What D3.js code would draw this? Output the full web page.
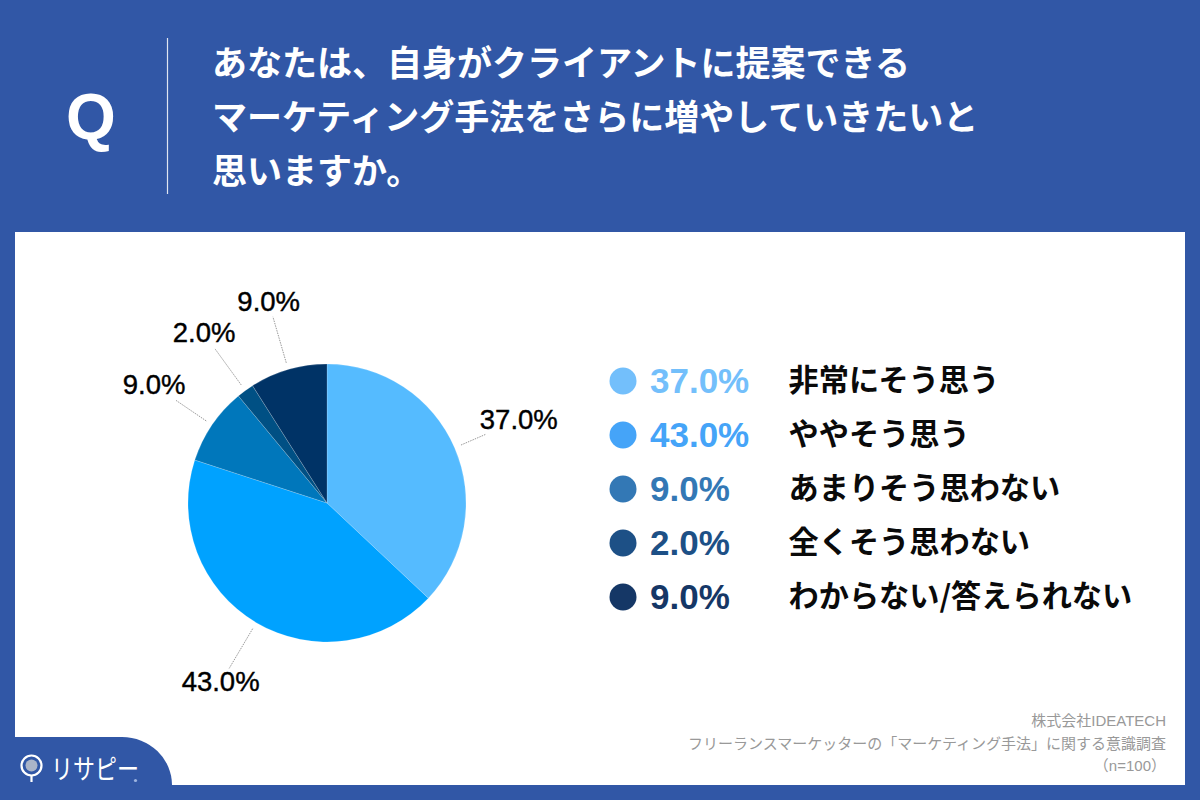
<!DOCTYPE html>
<html lang="ja">
<head>
<meta charset="utf-8">
<script src="https://cdn.jsdelivr.net/npm/d3@7"></script>
<style>
  html, body { margin: 0; padding: 0; background: #3157a6; }
  svg { display: block; }
  text { font-family: "Noto Sans CJK JP", sans-serif; }
  .num { font-family: "Liberation Sans", "Noto Sans CJK JP", sans-serif; }
</style>
</head>
<body>
<script>
// Data
const categories = ['非常にそう思う', 'ややそう思う', 'あまりそう思わない', '全くそう思わない', 'わからない/答えられない'];
const values = [37.0, 43.0, 9.0, 2.0, 9.0];
const sliceColors = ['#55bbff', '#00a2ff', '#0077bb', '#005084', '#003366'];
const legendColors = ['#73bffb', '#45a4f8', '#3378b5', '#1d5086', '#153766'];
const titleLines = ['あなたは、自身がクライアントに提案できる', 'マーケティング手法をさらに増やしていきたいと', '思いますか。'];
const footerLines = ['株式会社IDEATECH', 'フリーランスマーケッターの「マーケティング手法」に関する意識調査', '（n=100）'];

const fmt = d3.format('.1f');

const svg = d3.select('body')
    .append('svg')
    .attr('width', 1200)
    .attr('height', 800);

// Background and white panel
svg.append('rect').attr('width', 1200).attr('height', 800).attr('fill', '#3157a6');
svg.append('rect').attr('x', 15).attr('y', 232).attr('width', 1170).attr('height', 553).attr('fill', '#fff');

// Header
svg.append('text')
    .attr('class', 'num')
    .attr('x', 91).attr('y', 139)
    .attr('text-anchor', 'middle')
    .attr('fill', '#fff')
    .attr('font-size', 64)
    .attr('font-weight', 700)
    .text('Q');

svg.append('line')
    .attr('x1', 167.5).attr('x2', 167.5)
    .attr('y1', 38).attr('y2', 194)
    .attr('stroke', '#dfe5f2')
    .attr('stroke-width', 1.2);

svg.selectAll('.title')
    .data(titleLines)
    .enter()
    .append('text')
    .attr('class', 'title')
    .attr('x', 212)
    .attr('y', (d, i) => 76 + i * 54)
    .attr('fill', '#fff')
    .attr('font-size', 35)
    .attr('font-weight', 700)
    .text(d => d);

// Pie
const cx = 327, cy = 503, radius = 139, labelRadius = 209;
const g = svg.append('g').attr('transform', `translate(${cx},${cy})`);

const pie = d3.pie().sort(null).value(d => d);
const arcs = pie(values);
const arc = d3.arc().innerRadius(0).outerRadius(radius);

g.selectAll('.slice')
    .data(arcs)
    .enter()
    .append('path')
    .attr('class', 'slice')
    .attr('d', arc)
    .attr('fill', (d, i) => sliceColors[i])
    .attr('stroke', 'rgba(255,255,255,0.35)')
    .attr('stroke-width', 0.5);

const midAngle = d => (d.startAngle + d.endAngle) / 2;

const labels = g.selectAll('.pct')
    .data(arcs)
    .enter()
    .append('text')
    .attr('class', 'pct num')
    .attr('x', d => Math.sin(midAngle(d)) * labelRadius)
    .attr('y', d => -Math.cos(midAngle(d)) * labelRadius)
    .attr('dy', '0.31em')
    .attr('text-anchor', 'middle')
    .attr('fill', '#000')
    .attr('font-size', 27.5)
    .attr('stroke', '#000')
    .attr('stroke-width', 0.4)
    .text(d => fmt(d.data) + '%');

// Leader lines stop where the ray meets the label's box
labels.each(function (d) {
    const a = midAngle(d);
    const box = this.getBBox();
    const back = Math.min(
        (box.width / 2) / Math.max(Math.abs(Math.sin(a)), 0.001),
        (box.height / 2 - 1) / Math.max(Math.abs(Math.cos(a)), 0.001)
    );
    const r0 = radius + 7;
    const r1 = labelRadius - back;
    g.append('line')
        .attr('x1', Math.sin(a) * r0)
        .attr('y1', -Math.cos(a) * r0)
        .attr('x2', Math.sin(a) * r1)
        .attr('y2', -Math.cos(a) * r1)
        .attr('stroke', '#999')
        .attr('stroke-width', 1)
        .attr('stroke-dasharray', '1.5 1');
});

// Legend
const legendY = d3.scalePoint().domain(categories).range([381, 597]);
const legend = svg.selectAll('.legend')
    .data(categories)
    .enter()
    .append('g')
    .attr('class', 'legend')
    .attr('transform', d => `translate(0,${legendY(d)})`);

legend.append('circle')
    .attr('cx', 623)
    .attr('r', 13.5)
    .attr('fill', (d, i) => legendColors[i]);

legend.append('text')
    .attr('class', 'num')
    .attr('x', 650)
    .attr('dy', '0.33em')
    .attr('fill', (d, i) => legendColors[i])
    .attr('font-size', 35)
    .attr('font-weight', 700)
    .text((d, i) => fmt(values[i]) + '%');

legend.append('text')
    .attr('x', 788.5)
    .attr('dy', '0.34em')
    .attr('fill', '#0a0a0a')
    .attr('font-size', 30.2)
    .attr('font-weight', 700)
    .text(d => d);

// Footer note
svg.selectAll('.foot')
    .data(footerLines)
    .enter()
    .append('text')
    .attr('class', 'foot num')
    .attr('x', 1166)
    .attr('y', (d, i) => 726 + i * 22.5)
    .attr('text-anchor', 'end')
    .attr('fill', '#999')
    .attr('font-size', 15)
    .text(d => d);

// Logo badge
svg.append('path')
    .attr('d', 'M0,737 H122 A50,48 0 0 1 172,785 V800 H0 Z')
    .attr('fill', '#3157a6');

const logo = svg.append('g').attr('transform', 'translate(31.5,765.5)');
logo.append('circle').attr('r', 10).attr('fill', 'none').attr('stroke', '#fff').attr('stroke-width', 2.2);
logo.append('circle').attr('r', 6).attr('fill', '#aab4c8');
logo.append('line').attr('y1', 10).attr('y2', 16.5).attr('stroke', '#fff').attr('stroke-width', 2.2);

svg.append('text')
    .attr('x', 51).attr('y', 779)
    .attr('fill', '#fff')
    .attr('font-size', 27)
    .attr('textLength', 88)
    .attr('lengthAdjust', 'spacingAndGlyphs')
    .text('リサピー');

svg.append('circle').attr('cx', 135.5).attr('cy', 780.5).attr('r', 1.6).attr('fill', '#9db4e0');
</script>
</body>
</html>
